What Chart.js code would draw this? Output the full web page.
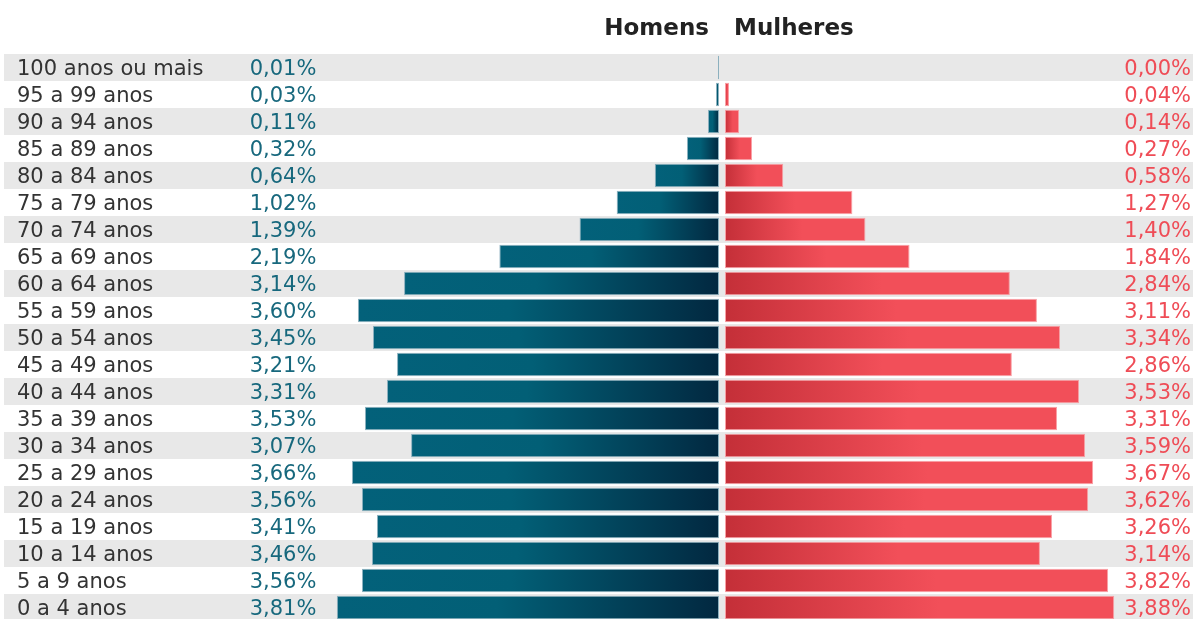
<!DOCTYPE html>
<html>
<head>
<meta charset="utf-8">
<script src="https://cdn.jsdelivr.net/npm/chart.js@4.4.1/dist/chart.umd.min.js"></script>
<style>
  html, body { margin: 0; padding: 0; background: #fff; overflow: hidden; }
  #wrap { position: relative; width: 1193px; height: 619px; overflow: hidden; }
</style>
</head>
<body>
<div id="wrap"><canvas id="pyramid" width="1193" height="621"></canvas></div>
<script>
// Pirâmide etária - % da população por sexo
const ageGroups = [
  '100 anos ou mais', '95 a 99 anos', '90 a 94 anos', '85 a 89 anos', '80 a 84 anos',
  '75 a 79 anos', '70 a 74 anos', '65 a 69 anos', '60 a 64 anos', '55 a 59 anos',
  '50 a 54 anos', '45 a 49 anos', '40 a 44 anos', '35 a 39 anos', '30 a 34 anos',
  '25 a 29 anos', '20 a 24 anos', '15 a 19 anos', '10 a 14 anos', '5 a 9 anos', '0 a 4 anos'
];
const menPct = [0.01, 0.03, 0.11, 0.32, 0.64, 1.02, 1.39, 2.19, 3.14, 3.60, 3.45,
                3.21, 3.31, 3.53, 3.07, 3.66, 3.56, 3.41, 3.46, 3.56, 3.81];
const womenPct = [0.00, 0.04, 0.14, 0.27, 0.58, 1.27, 1.40, 1.84, 2.84, 3.11, 3.34,
                  2.86, 3.53, 3.31, 3.59, 3.67, 3.62, 3.26, 3.14, 3.82, 3.88];
const headers = ['Homens', 'Mulheres'];

// layout constants
const W = 1193;
const pxPerPct = 100.3;
const menZero = 719;
const womenZero = 725;
const FONT = '"DejaVu Sans"';

const fmt = v => v.toFixed(2).replace('.', ',') + '%';

function menFill(c) {
  const ch = c.chart, s = ch.scales.xm;
  if (!s || !ch.chartArea || c.raw == null) return '#03607a';
  const x0 = s.getPixelForValue(c.raw), x1 = s.getPixelForValue(0);
  if (Math.abs(x1 - x0) < 1) return '#03607a';
  const g = ch.ctx.createLinearGradient(x0, 0, x1, 0);
  g.addColorStop(0, '#03617a');
  g.addColorStop(0.42, '#025f76');
  g.addColorStop(1, '#022840');
  return g;
}
function womenFill(c) {
  const ch = c.chart, s = ch.scales.xw;
  if (!s || !ch.chartArea || c.raw == null) return '#f04f58';
  const x0 = s.getPixelForValue(0), x1 = s.getPixelForValue(c.raw);
  if (Math.abs(x1 - x0) < 1) return '#f04f58';
  const g = ch.ctx.createLinearGradient(x0, 0, x1, 0);
  g.addColorStop(0, '#c42f38');
  g.addColorStop(0.55, '#f24f59');
  g.addColorStop(1, '#f24f59');
  return g;
}

const decor = {
  id: 'decor',
  beforeDatasetsDraw(chart) {
    const { ctx, chartArea, scales } = chart;
    const band = (chartArea.bottom - chartArea.top) / ageGroups.length;
    ctx.save();
    ctx.fillStyle = '#e8e8e8';
    ageGroups.forEach((a, i) => {
      if (i % 2 === 0) {
        const y = scales.y.getPixelForValue(i);
        ctx.fillRect(4, Math.round(y - band / 2), W - 4, Math.round(band));
      }
    });
    ctx.restore();
  },
  afterDraw(chart) {
    const { ctx, scales } = chart;
    ctx.save();
    ctx.textBaseline = 'middle';
    // headers
    ctx.font = `bold 23px ${FONT}`;
    ctx.fillStyle = '#222';
    ctx.textAlign = 'right';
    ctx.fillText(headers[0], 709, 29);
    ctx.textAlign = 'left';
    ctx.fillText(headers[1], 734, 29);
    ageGroups.forEach((a, i) => {
      const y = scales.y.getPixelForValue(i) + 2;
      ctx.font = `21px ${FONT}`;
      ctx.fillStyle = '#333';
      ctx.textAlign = 'left';
      ctx.fillText(a, 17, y);
      ctx.fillStyle = '#17687d';
      ctx.textAlign = 'center';
      ctx.fillText(fmt(menPct[i]), 283, y);
      ctx.fillStyle = '#ef4c56';
      ctx.textAlign = 'right';
      ctx.fillText(fmt(womenPct[i]), 1191, y);
    });
    ctx.restore();
  }
};

const spanPct = W / pxPerPct;
new Chart(document.getElementById('pyramid').getContext('2d'), {
  type: 'bar',
  data: {
    labels: ageGroups,
    datasets: [
      {
        label: headers[0],
        data: menPct,
        xAxisID: 'xm',
        backgroundColor: menFill,
        borderColor: 'rgba(130,170,185,0.9)',
        borderWidth: 1,
        borderSkipped: false,
        barPercentage: 0.87,
        categoryPercentage: 1
      },
      {
        label: headers[1],
        data: womenPct,
        xAxisID: 'xw',
        backgroundColor: womenFill,
        borderColor: 'rgba(248,150,155,0.9)',
        borderWidth: 1,
        borderSkipped: false,
        barPercentage: 0.87,
        categoryPercentage: 1
      }
    ]
  },
  options: {
    indexAxis: 'y',
    responsive: false,
    animation: false,
    devicePixelRatio: 1,
    layout: { padding: { top: 54, bottom: 0, left: 0, right: 0 } },
    plugins: { legend: { display: false }, tooltip: { enabled: false } },
    scales: {
      y: { display: false },
      xm: {
        type: 'linear', display: false, reverse: true,
        max: menZero / pxPerPct, min: menZero / pxPerPct - spanPct
      },
      xw: {
        type: 'linear', display: false,
        min: -womenZero / pxPerPct, max: -womenZero / pxPerPct + spanPct
      }
    },
    datasets: { bar: { grouped: false } }
  },
  plugins: [decor]
});
</script>
</body>
</html>
